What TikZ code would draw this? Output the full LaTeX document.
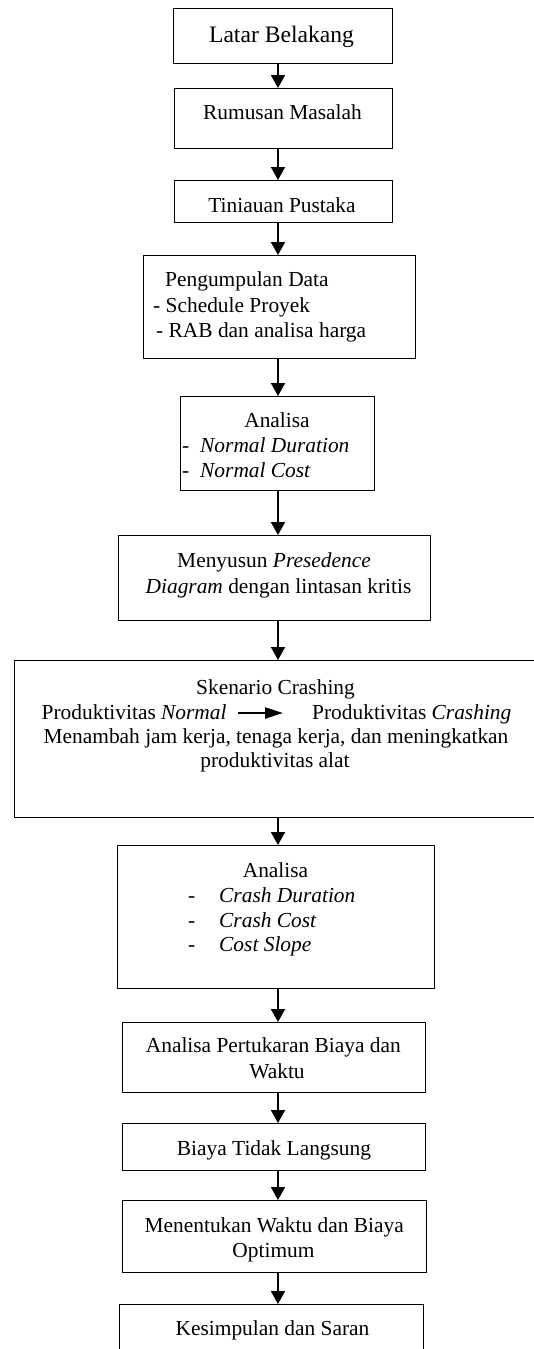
\documentclass[tikz,border=0pt]{standalone}
\usepackage{fontspec}
\setmainfont{Liberation Serif}
\usetikzlibrary{arrows.meta}
\tikzset{
  box/.style={draw=black, line width=1.4pt, rectangle, inner sep=0pt, anchor=north west},
  txt/.style={inner sep=0pt, font=\fontsize{21.4pt}{25.3pt}\selectfont},
  bigtxt/.style={inner sep=0pt, font=\fontsize{23.6pt}{28pt}\selectfont},
  flow/.style={line width=1.9pt, -{Triangle[length=13pt,width=14pt]}},
  smallflow/.style={line width=2.2pt, -{Triangle[length=18pt,width=11pt]}}
}
\begin{document}
\begin{tikzpicture}[x=1pt,y=-1pt]
\useasboundingbox (0,0) rectangle (534,1349);
\clip (0,0) rectangle (534,1349);
\fill[white] (0,0) rectangle (534,1349);
% boxes
\node[box, minimum width=219pt, minimum height=55pt] (b1) at (173,8) {};
\node[box, minimum width=218pt, minimum height=60pt] (b2) at (174,88) {};
\node[box, minimum width=218pt, minimum height=42pt] (b3) at (174,180) {};
\node[box, minimum width=272pt, minimum height=103pt] (b4) at (143,255) {};
\node[box, minimum width=194pt, minimum height=94pt] (b5) at (180,396) {};
\node[box, minimum width=312pt, minimum height=85pt] (b6) at (118,535) {};
\node[box, minimum width=530pt, minimum height=157pt] (b7) at (14,660) {};
\node[box, minimum width=317pt, minimum height=143pt] (b8) at (117,845) {};
\node[box, minimum width=303pt, minimum height=70pt] (b9) at (122,1022) {};
\node[box, minimum width=303pt, minimum height=47pt] (b10) at (122,1123) {};
\node[box, minimum width=304pt, minimum height=72pt] (b11) at (122,1200) {};
\node[box, minimum width=304pt, minimum height=60pt] (b12) at (119,1304) {};
% texts
\node[bigtxt, anchor=base] (t1) at (281.5,42) {Latar Belakang};
\node[txt, anchor=base] (t2) at (282.5,119) {Rumusan Masalah};
\node[txt, anchor=base] (t3) at (282,212) {Tiniauan Pustaka};
\node[txt, anchor=base west] (t4a) at (165,286) {Pengumpulan Data};
\node[txt, anchor=base west] (t4b) at (153,312) {- Schedule Proyek};
\node[txt, anchor=base west] (t4c) at (156,337) {- RAB dan analisa harga};
\node[txt, anchor=base] (t5a) at (277,427) {Analisa};
\node[txt, anchor=base west] (t5b) at (182,452) {-};
\node[txt, anchor=base west] (t5c) at (200,452) {\textit{Normal Duration}};
\node[txt, anchor=base west] (t5d) at (182,477) {-};
\node[txt, anchor=base west] (t5e) at (200,477) {\textit{Normal Cost}};
\node[txt, anchor=base] (t6a) at (274,567) {Menyusun \textit{Presedence}};
\node[txt, anchor=base] (t6b) at (278.5,593) {\textit{Diagram} dengan lintasan kritis};
\node[txt, anchor=base] (t7a) at (275.5,694) {Skenario Crashing};
\node[txt, anchor=base west] (t7b) at (41.5,719) {Produktivitas \textit{Normal}};
\node[txt, anchor=base west] (t7c) at (312,719) {Produktivitas \textit{Crashing}};
\node[txt, anchor=base] (t7d) at (276,743.5) {Menambah jam kerja, tenaga kerja, dan meningkatkan};
\node[txt, anchor=base] (t7e) at (275,767) {produktivitas alat};
\coordinate (p1) at (238,713);
\coordinate (p2) at (283,713);
\draw[smallflow] (p1) -- (p2);
\node[txt, anchor=base] (t8a) at (275.5,877) {Analisa};
\node[txt, anchor=base west] (t8b) at (188,902) {-};
\node[txt, anchor=base west] (t8c) at (219,902) {\textit{Crash Duration}};
\node[txt, anchor=base west] (t8d) at (188,927) {-};
\node[txt, anchor=base west] (t8e) at (219,927) {\textit{Crash Cost}};
\node[txt, anchor=base west] (t8f) at (188,951) {-};
\node[txt, anchor=base west] (t8g) at (219,951) {\textit{Cost Slope}};
\node[txt, anchor=base east] (t9a) at (401,1052) {Analisa Pertukaran Biaya dan};
\node[txt, anchor=base] (t9b) at (277,1078) {Waktu};
\node[txt, anchor=base] (t10) at (274,1155) {Biaya Tidak Langsung};
\node[txt, anchor=base east] (t11a) at (404,1232) {Menentukan Waktu dan Biaya};
\node[txt, anchor=base] (t11b) at (273.5,1257) {Optimum};
\node[txt, anchor=base] (t12) at (272.5,1335) {Kesimpulan dan Saran};
% connectors
\coordinate (ax) at (278,0);
\foreach \a/\b in {b1/b2,b2/b3,b3/b4,b4/b5,b5/b6,b6/b7,b7/b8,b8/b9,b9/b10,b10/b11,b11/b12}
  \draw[flow] (\a.south -| ax) -- (\b.north -| ax);
\end{tikzpicture}
\end{document}
